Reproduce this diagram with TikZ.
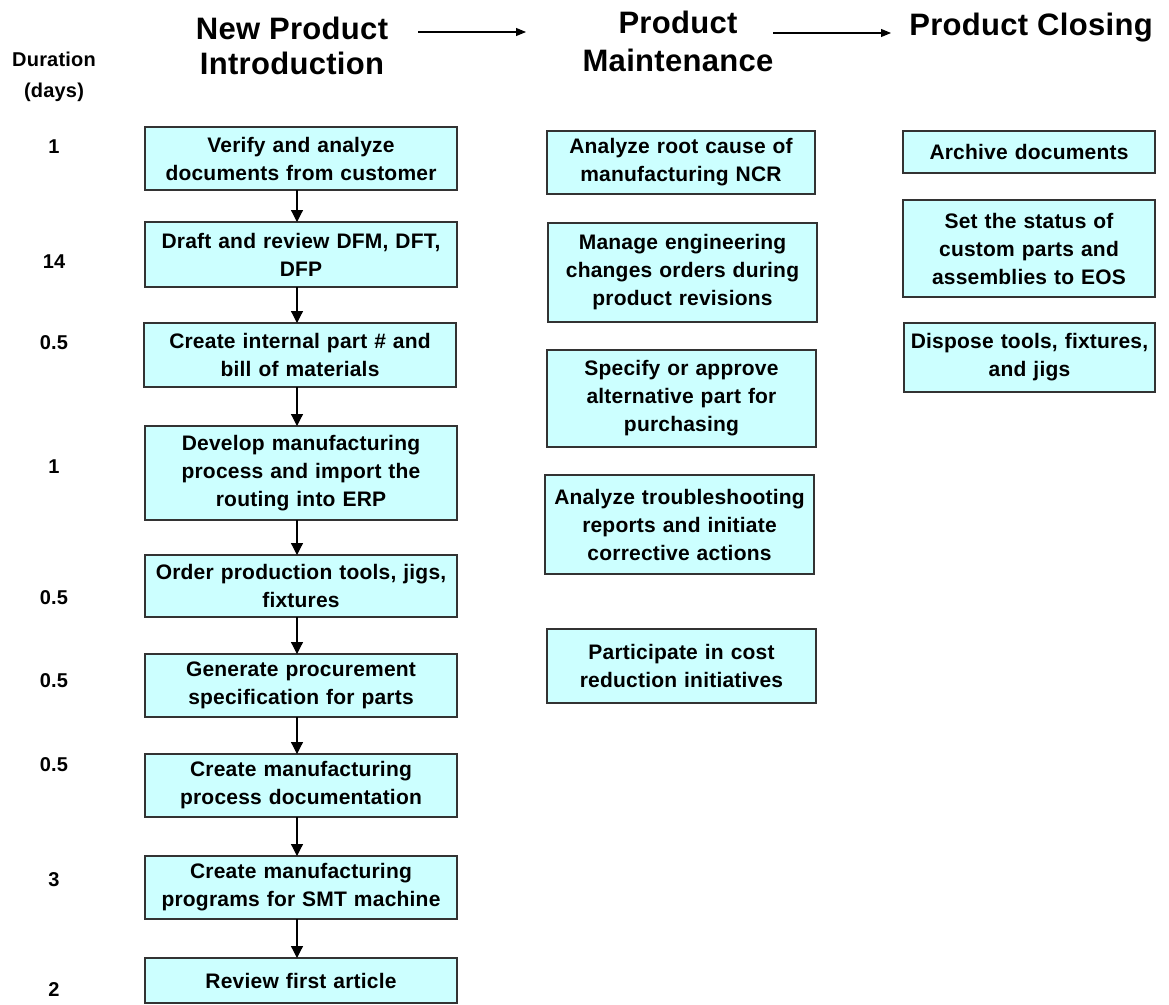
\documentclass[tikz,border=0pt]{standalone}
\usepackage{fontspec}
\setmainfont{Liberation Sans}[LetterSpace=1]
\usetikzlibrary{arrows.meta}
\definecolor{boxfill}{HTML}{CCFFFF}
\definecolor{boxline}{HTML}{333333}
\begin{document}
\begin{tikzpicture}[x=1pt,y=-1pt,
  every node/.style={inner sep=0pt, outer sep=0pt, font=\bfseries},
  task/.style={draw=boxline, line width=1.3pt, fill=boxfill, align=center,
    font=\bfseries\fontsize{21}{28}\selectfont},
  head/.style={align=center, font=\bfseries\fontsize{31}{35}\selectfont},
  dur/.style={font=\bfseries\fontsize{20}{31}\selectfont, align=center},
  flow/.style={line width=1.2pt, -{Triangle[width=12pt,length=12pt]}},
  phase/.style={line width=1.1pt, -{Triangle[width=8pt,length=10pt]}}]
\useasboundingbox (0,0) rectangle (1169,1004);

% box with corners (x1,y1)-(x2,y2)
\newcommand\taskbox[6]{%
  \node[task, minimum width=#4-#2, minimum height=#5-#3, text width=#4-#2-8]
    (#1) at ({(#2+#4)/2},{(#3+#5)/2}) {#6};}

% phase headings
\node[head] (h1) at (292,46) {New Product\\Introduction};
\node[head, font=\bfseries\fontsize{31}{38}\selectfont] (h2) at (678,41) {Product\\Maintenance};
\node[head] (h3) at (1031,28) {Product Closing};
\coordinate (p1s) at (418,32); \coordinate (p1e) at (526,32);
\coordinate (p2s) at (773,33); \coordinate (p2e) at (891,33);
\draw[phase] (p1s) -- (p1e);
\draw[phase] (p2s) -- (p2e);

% duration column
\node[dur] (dh) at (54,77) {Duration\\(days)};
\node[dur] (d1) at (54,147) {1};
\node[dur] (d2) at (54,262) {14};
\node[dur] (d3) at (54,343) {0.5};
\node[dur] (d4) at (54,467) {1};
\node[dur] (d5) at (54,598) {0.5};
\node[dur] (d6) at (54,681) {0.5};
\node[dur] (d7) at (54,765) {0.5};
\node[dur] (d8) at (54,880) {3};
\node[dur] (d9) at (54,990) {2};

% new product introduction
\taskbox{n1}{145}{127}{457}{190}{Verify and analyze\\documents from customer}
\taskbox{n2}{145}{222}{457}{287}{Draft and review DFM, DFT,\\DFP}
\taskbox{n3}{144}{323}{456}{387}{Create internal part \# and\\bill of materials}
\taskbox{n4}{145}{426}{457}{520}{Develop manufacturing\\process and import the\\routing into ERP}
\taskbox{n5}{145}{555}{457}{617}{Order production tools, jigs,\\fixtures}
\taskbox{n6}{145}{654}{457}{717}{Generate procurement\\specification for parts}
\taskbox{n7}{145}{754}{457}{817}{Create manufacturing\\process documentation}
\taskbox{n8}{145}{856}{457}{919}{Create manufacturing\\programs for SMT machine}
\taskbox{n9}{145}{958}{457}{1003}{Review first article}

\foreach \a/\b in {n1/n2,n2/n3,n3/n4,n4/n5,n5/n6,n6/n7,n7/n8,n8/n9}
  \draw[flow] (\a.south -| 297,0) -- (\b.north -| 297,0);

% product maintenance
\taskbox{m1}{547}{131}{815}{194}{Analyze root cause of\\manufacturing NCR}
\taskbox{m2}{548}{223}{817}{322}{Manage engineering\\changes orders during\\product revisions}
\taskbox{m3}{547}{350}{816}{447}{Specify or approve\\alternative part for\\purchasing}
\taskbox{m4}{545}{475}{814}{574}{Analyze troubleshooting\\reports and initiate\\corrective actions}
\taskbox{m5}{547}{629}{816}{703}{Participate in cost\\reduction initiatives}

% product closing
\taskbox{c1}{903}{131}{1155}{173}{Archive documents}
\taskbox{c2}{903}{200}{1155}{297}{Set the status of\\custom parts and\\assemblies to EOS}
\taskbox{c3}{904}{323}{1155}{392}{Dispose tools, fixtures,\\and jigs}
\end{tikzpicture}
\end{document}
